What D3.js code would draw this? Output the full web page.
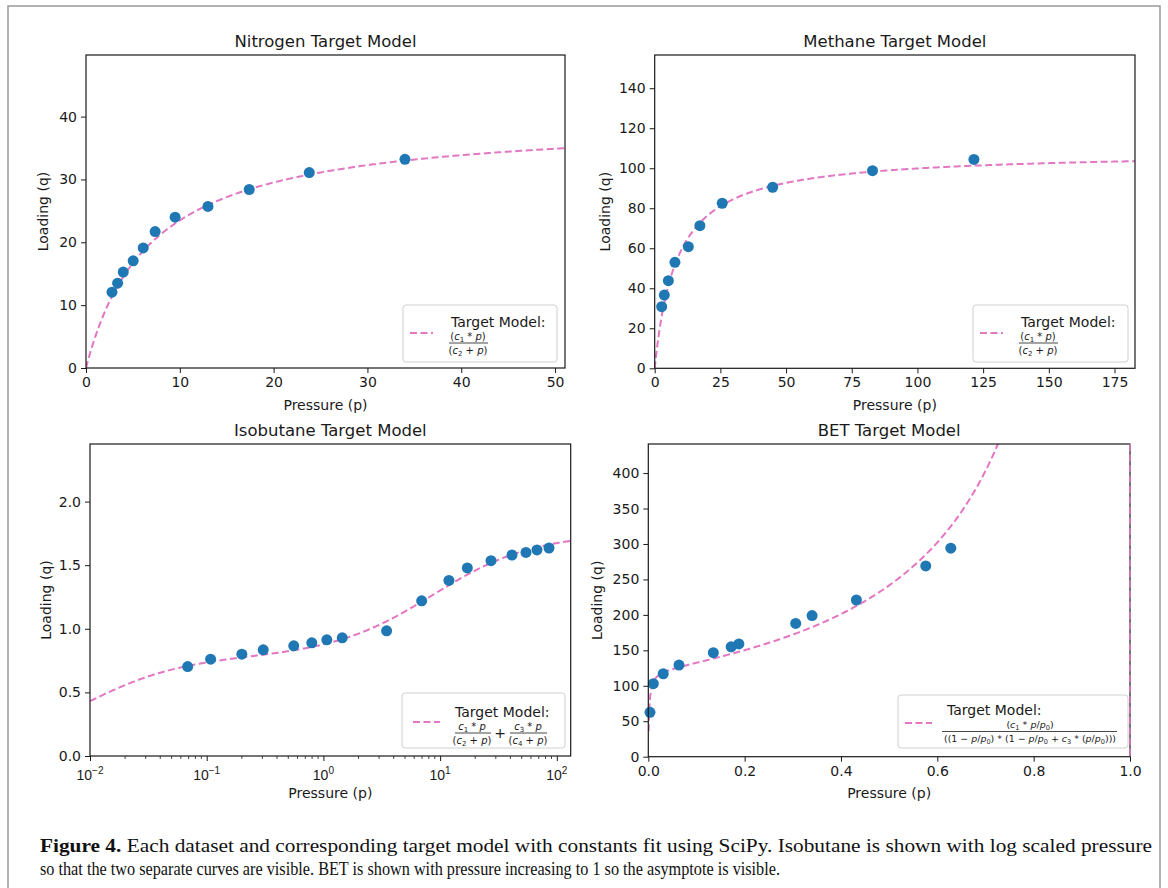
<!DOCTYPE html>
<html>
<head>
<meta charset="utf-8">
<script src="https://cdn.jsdelivr.net/npm/d3@7/dist/d3.min.js"></script>
<style>
  body { margin: 0; background: #fff; }
  svg { display: block; font-family: "DejaVu Sans", sans-serif; }
</style>
</head>
<body>
<svg id="chart" width="1168" height="888"></svg>
<script>
// --- values -----------------------------------------------------------

// Nitrogen
const n2Pressure = [2.77, 3.37, 3.97, 5.03, 6.1, 7.37, 9.5, 13.0, 17.4, 23.8, 34.0];
const n2Loading  = [12.07, 13.5, 15.26, 17.06, 19.1, 21.7, 24.0, 25.7, 28.4, 31.1, 33.2];
const n2Consts   = [39.7, 6.9];            // c1, c2

// Methane
const ch4Pressure = [2.66, 3.66, 5.2, 7.7, 12.8, 17.2, 25.7, 44.9, 82.9, 121.5];
const ch4Loading  = [30.8, 36.6, 43.8, 53.0, 60.8, 71.3, 82.5, 90.5, 98.8, 104.4];
const ch4Consts   = [108.3, 8.42];         // c1, c2

// Isobutane (log pressure)
const isoPressure = [0.0687, 0.108, 0.2, 0.305, 0.557, 0.795, 1.07, 1.45, 3.48, 6.95, 11.9, 17.1, 27.3, 41.3, 54.4, 67.6, 85.7];
const isoLoading  = [0.703, 0.761, 0.80, 0.835, 0.866, 0.89, 0.913, 0.929, 0.984, 1.22, 1.38, 1.478, 1.535, 1.58, 1.60, 1.62, 1.635];
const isoConsts   = [0.784, 0.00823, 0.967, 8.68];   // c1, c2, c3, c4

// BET
const betPressure = [0.0035, 0.0104, 0.031, 0.0637, 0.135, 0.172, 0.188, 0.306, 0.34, 0.432, 0.576, 0.628];
const betLoading  = [62.6, 103, 117, 129.3, 146.7, 155, 159, 188, 199, 221, 269, 294];
const betConsts   = [72600, 600];          // c1, c3  (p0 = 1)

const titles = ["Nitrogen Target Model", "Methane Target Model", "Isobutane Target Model", "BET Target Model"];
const isoMajorTicks = [0.01, 0.1, 1, 10, 100];
const isoExponents  = ["\u22122", "\u22121", "0", "1", "2"];

const captionLine1 = "Each dataset and corresponding target model with constants fit using SciPy. Isobutane is shown with log scaled pressure";
const captionLine2 = "so that the two separate curves are visible. BET is shown with pressure increasing to 1 so the asymptote is visible.";

// --- models -----------------------------------------------------------
const langmuir = (p, c) => c[0] * p / (c[1] + p);
const dualLangmuir = (p, c) => c[0] * p / (c[1] + p) + c[2] * p / (c[3] + p);
const bet = (p, c) => c[0] * p / ((1 - p) * (1 - p + c[1] * p));

const svg = d3.select("#chart");
const PINK = "#e377c2", BLUE = "#1f77b4", INK = "#1a1a1a";

svg.append("rect").attr("x", 8).attr("y", 6).attr("width", 1152).attr("height", 895)
  .attr("fill", "#fff").attr("stroke", "#9a9a9a").attr("stroke-width", 1.5);

// writes "(c_1 * p)"-style strings: letters italic, _x subscript
function mathText(g, cx, y, str, size) {
  const t = g.append("text").attr("x", cx).attr("y", y).attr("text-anchor", "middle")
    .attr("font-size", size).attr("fill", INK);
  const shift = size * 0.25;
  let sub = false, lift = 0;
  for (let i = 0; i < str.length; i++) {
    const ch = str[i];
    if (ch === "_") { sub = true; continue; }
    const span = t.append("tspan").text(ch);
    if (sub) {
      span.attr("font-size", size * 0.7).attr("dy", shift);
      sub = false;
      lift = -shift;
    } else {
      if (lift) { span.attr("dy", lift); lift = 0; }
      if (/[a-z]/.test(ch)) span.attr("font-style", "italic");
    }
  }
  return t;
}

function fraction(g, cx, barY, x1, x2, num, den, size) {
  mathText(g, cx, barY - 3.5, num, size);
  g.append("line").attr("x1", x1).attr("x2", x2).attr("y1", barY).attr("y2", barY)
    .attr("stroke", INK).attr("stroke-width", 0.8);
  return mathText(g, cx, barY + 10.5, den, size);
}

function legendBox(g, b) {
  g.append("rect").attr("x", b.x).attr("y", b.y).attr("width", b.w).attr("height", b.h)
    .attr("rx", 3).attr("fill", "#fff").attr("fill-opacity", 0.85)
    .attr("stroke", "#d0d0d0").attr("stroke-width", 1);
  g.append("line").attr("x1", b.lx1).attr("x2", b.lx2).attr("y1", b.ly).attr("y2", b.ly)
    .attr("stroke", PINK).attr("stroke-width", 2).attr("stroke-dasharray", "7,3.5");
  g.append("text").attr("x", b.tx).attr("y", b.ty).attr("font-size", 14).attr("fill", INK)
    .text("Target Model:");
}

function panel(cfg) {
  const { left, right, top, bottom } = cfg;
  const g = svg.append("g");
  const x = cfg.xScale.range([left, right]);
  const y = d3.scaleLinear().domain([0, 1.5 * d3.max(cfg.loading)]).range([bottom, top]);

  const clipId = "clip" + cfg.id;
  g.append("clipPath").attr("id", clipId).append("rect")
    .attr("x", left).attr("y", top).attr("width", right - left).attr("height", bottom - top);

  // axes
  const xAxis = cfg.xAxis(d3.axisBottom(x)).tickSizeOuter(0).tickSize(5).tickPadding(4);
  const gx = g.append("g").attr("transform", `translate(0,${bottom})`).call(xAxis);
  const gy = g.append("g").attr("transform", `translate(${left},0)`)
    .call(d3.axisLeft(y).tickValues(cfg.yTicks).tickFormat(cfg.yFormat)
      .tickSizeOuter(0).tickSize(5).tickPadding(4));
  [gx, gy].forEach(a => {
    a.select(".domain").remove();
    a.selectAll(".tick line").attr("stroke", INK).attr("stroke-width", 1);
    a.selectAll(".tick text").attr("font-size", 14).attr("fill", INK)
      .attr("font-family", "DejaVu Sans");
  });
  if (cfg.afterAxis) cfg.afterAxis(gx, x);

  // model curve
  const pts = cfg.samples.map(p => [p, cfg.model(p, cfg.consts)]);
  g.append("path").attr("clip-path", `url(#${clipId})`)
    .attr("d", d3.line().x(d => x(d[0])).y(d => y(Math.min(d[1], 1e5)))(pts))
    .attr("fill", "none").attr("stroke", PINK).attr("stroke-width", 2)
    .attr("stroke-dasharray", "7,3.5");

  // observed points
  g.selectAll("circle.pt").data(cfg.pressure).join("circle").attr("class", "pt")
    .attr("cx", d => x(d)).attr("cy", (d, i) => y(cfg.loading[i]))
    .attr("r", 5.5).attr("fill", BLUE);

  // frame
  g.append("rect").attr("x", left).attr("y", top).attr("width", right - left)
    .attr("height", bottom - top).attr("fill", "none").attr("stroke", INK).attr("stroke-width", 1.2);

  if (cfg.extra) cfg.extra(g, x, y);

  // labels
  g.append("text").attr("x", (left + right) / 2).attr("y", top - 8).attr("text-anchor", "middle")
    .attr("font-size", 16.5).attr("fill", INK).text(titles[cfg.id]);
  g.append("text").attr("x", (left + right) / 2).attr("y", cfg.xLabelY).attr("text-anchor", "middle")
    .attr("font-size", 14).attr("fill", INK).text("Pressure (p)");
  g.append("text").attr("transform", `translate(${cfg.yLabelX},${(top + bottom) / 2}) rotate(-90)`)
    .attr("text-anchor", "middle").attr("font-size", 14).attr("fill", INK).text("Loading (q)");

  cfg.legend(g);
}

const linSamples = (a, b, n) => d3.range(n + 1).map(i => a + (b - a) * i / n);

// Nitrogen
panel({
  id: 0, left: 86, right: 565, top: 55, bottom: 368,
  xScale: d3.scaleLinear().domain([0, 51.06]),
  xAxis: a => a.tickValues([0, 10, 20, 30, 40, 50]).tickFormat(d3.format("d")),
  yTicks: [0, 10, 20, 30, 40], yFormat: d3.format("d"),
  pressure: n2Pressure, loading: n2Loading, consts: n2Consts, model: langmuir,
  samples: linSamples(0, 51.06, 300),
  xLabelY: 410, yLabelX: 48,
  legend: g => {
    legendBox(g, { x: 403, y: 305, w: 154, h: 57, lx1: 410, lx2: 433, ly: 333, tx: 451, ty: 327 });
    fraction(g, 468, 343, 449, 488, "(c_1 * p)", "(c_2 + p)", 10);
  }
});

// Methane
panel({
  id: 1, left: 654.7, right: 1135, top: 55, bottom: 368.3,
  xScale: d3.scaleLinear().domain([0, 182.8]),
  xAxis: a => a.tickValues([0, 25, 50, 75, 100, 125, 150, 175]).tickFormat(d3.format("d")),
  yTicks: [0, 20, 40, 60, 80, 100, 120, 140], yFormat: d3.format("d"),
  pressure: ch4Pressure, loading: ch4Loading, consts: ch4Consts, model: langmuir,
  samples: linSamples(0, 182.8, 400),
  xLabelY: 410, yLabelX: 610,
  legend: g => {
    legendBox(g, { x: 973, y: 305, w: 155, h: 57, lx1: 980, lx2: 1003, ly: 333, tx: 1021, ty: 327 });
    fraction(g, 1038, 343, 1019, 1058, "(c_1 * p)", "(c_2 + p)", 10);
  }
});

// Isobutane
panel({
  id: 2, left: 90, right: 570.7, top: 444, bottom: 756,
  xScale: d3.scaleLog().domain([0.01, 131.5]),
  xAxis: a => a.tickValues(isoMajorTicks).tickFormat(() => ""),
  yTicks: [0, 0.5, 1, 1.5, 2], yFormat: d3.format(".1f"),
  pressure: isoPressure, loading: isoLoading, consts: isoConsts, model: dualLangmuir,
  samples: d3.range(0, 501).map(i => Math.pow(10, -2 + 4.119 * i / 500)),
  xLabelY: 798, yLabelX: 51,
  afterAxis: (gx, x) => {
    // minor ticks
    const minors = [];
    for (let e = -2; e <= 2; e++) for (let k = 2; k <= 9; k++) {
      const v = k * Math.pow(10, e);
      if (v < 131.5) minors.push(v);
    }
    gx.selectAll("line.minor").data(minors).join("line").attr("class", "minor")
      .attr("x1", d => x(d)).attr("x2", d => x(d)).attr("y1", 0).attr("y2", 3)
      .attr("stroke", INK).attr("stroke-width", 0.8);
    // 10^n labels
    gx.selectAll("text.exp").data(isoMajorTicks).join("text").attr("class", "exp")
      .attr("x", d => x(d)).attr("y", 24).attr("text-anchor", "middle")
      .attr("font-size", 14).attr("fill", INK)
      .each(function (d, i) {
        const t = d3.select(this);
        t.append("tspan").text("10");
        t.append("tspan").attr("dy", -6).attr("font-size", 10).text(isoExponents[i]);
      });
  },
  legend: g => {
    legendBox(g, { x: 402, y: 693, w: 163, h: 55, lx1: 413, lx2: 440, ly: 722, tx: 455, ty: 717 });
    fraction(g, 472, 733, 455, 491, "c_1 * p", "(c_2 + p)", 10);
    g.append("text").attr("x", 500).attr("y", 738).attr("text-anchor", "middle")
      .attr("font-size", 14).attr("fill", INK).text("+");
    fraction(g, 528, 733, 510, 547, "c_3 * p", "(c_4 + p)", 10);
  }
});

// BET
panel({
  id: 3, left: 648.3, right: 1130, top: 444, bottom: 756.7,
  xScale: d3.scaleLinear().domain([0, 1]),
  xAxis: a => a.tickValues([0, 0.2, 0.4, 0.6, 0.8, 1]).tickFormat(d3.format(".1f")),
  yTicks: [0, 50, 100, 150, 200, 250, 300, 350, 400], yFormat: d3.format("d"),
  pressure: betPressure, loading: betLoading, consts: betConsts, model: bet,
  samples: [0.0007, 0.002, 0.004, 0.007].concat(linSamples(0.01, 0.9, 300)),
  xLabelY: 798, yLabelX: 602,
  extra: (g, x, y) => {
    // asymptote at p/p0 = 1
    g.append("line").attr("x1", x(1)).attr("x2", x(1)).attr("y1", y.range()[1]).attr("y2", y.range()[0])
      .attr("stroke", PINK).attr("stroke-width", 1.5).attr("stroke-dasharray", "7,3.5");
  },
  legend: g => {
    legendBox(g, { x: 898, y: 695, w: 230, h: 53, lx1: 905, lx2: 932, ly: 723, tx: 947, ty: 715 });
    fraction(g, 1030, 731.5, 942, 1117, "(c_1 * p/p_0)", "((1 \u2212 p/p_0) * (1 \u2212 p/p_0 + c_3 * (p/p_0)))", 9.5)
      .attr("textLength", 172).attr("lengthAdjust", "spacingAndGlyphs");
  }
});

// caption
const capG = svg.append("g").attr("font-family", "Liberation Serif, serif")
  .attr("font-size", 19).attr("fill", "#111");
const cap1 = capG.append("text").attr("x", 40).attr("y", 852)
  .attr("textLength", 1112).attr("lengthAdjust", "spacingAndGlyphs");
cap1.append("tspan").attr("font-weight", "bold").text("Figure 4.");
cap1.append("tspan").text(" " + captionLine1);
capG.append("text").attr("x", 40).attr("y", 875)
  .attr("textLength", 740).attr("lengthAdjust", "spacingAndGlyphs")
  .text(captionLine2);
</script>
</body>
</html>
